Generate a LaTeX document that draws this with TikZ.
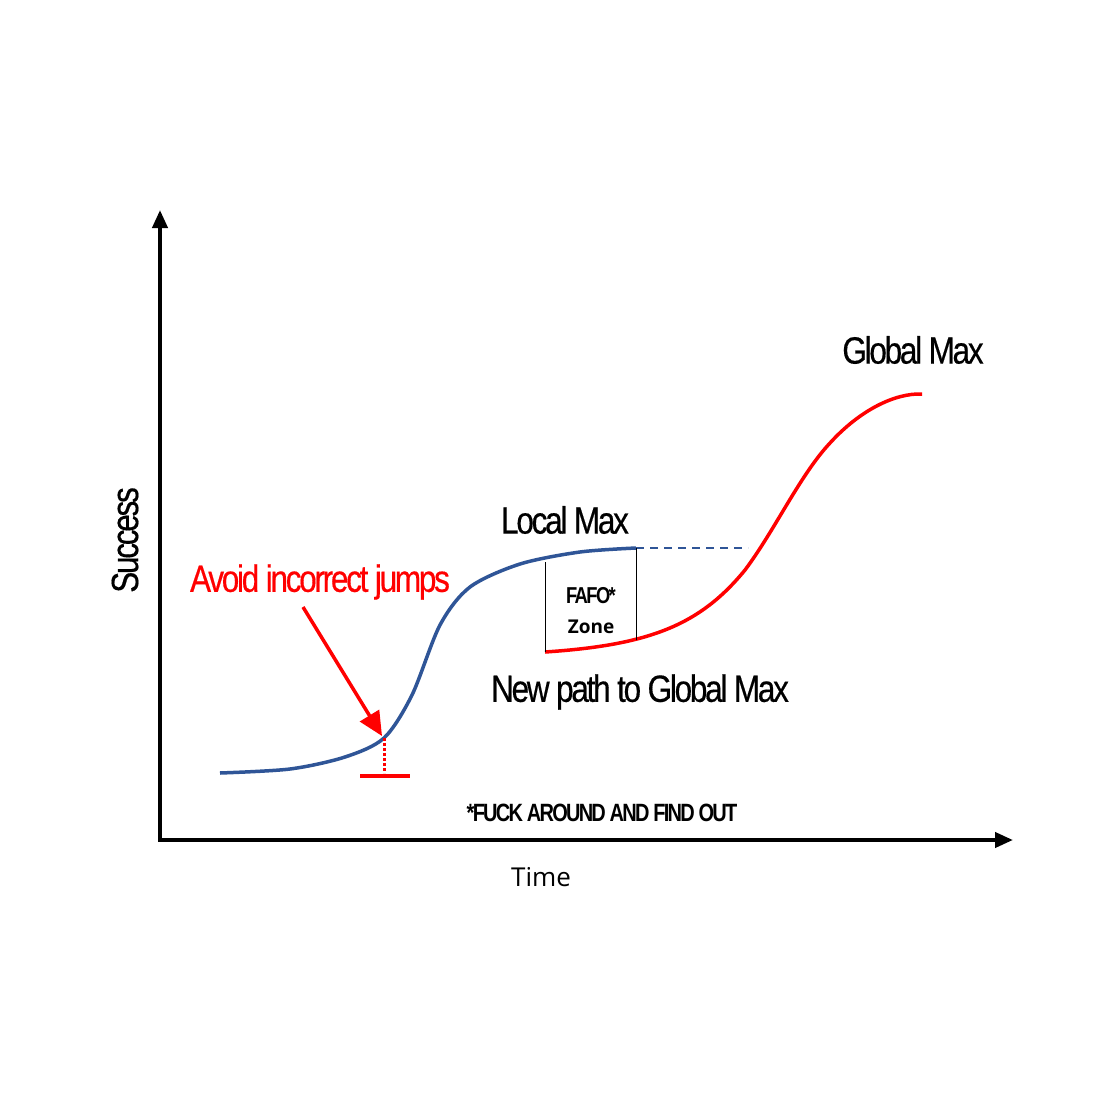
\documentclass[tikz,border=0pt]{standalone}
\usepackage{fontspec}
\setmainfont{Liberation Sans}
\newfontfamily\narrowfont[FakeStretch=0.83,LetterSpace=-6,FakeBold=0.4]{Liberation Sans}
\newfontfamily\narrowbold[FakeStretch=0.8,LetterSpace=-7]{Liberation Sans Bold}
\newfontfamily\opensans{Open Sans}
\usetikzlibrary{arrows.meta, positioning, calc}
\definecolor{curveblue}{RGB}{47,85,151}
\definecolor{jumpred}{RGB}{255,0,0}
\begin{document}
\begin{tikzpicture}[
    x=1pt, y=-1pt,
    axis/.style={draw=black, line width=4pt, -{Triangle[length=18pt, width=15pt]}},
    label/.style={font=\narrowfont\fontsize{38}{40}\selectfont, inner sep=0pt},
    bluecurve/.style={draw=curveblue, line width=3.5pt},
    redcurve/.style={draw=jumpred, line width=3.5pt},
    zone/.style={draw=black, line width=1pt},
    line/.style={draw=jumpred, line width=3.5pt, -{Triangle[length=24pt, width=22pt]}}
]
    \useasboundingbox (0,0) rectangle (1108,1108);
    \fill[white] (0,0) rectangle (1108,1108);

    % axes
    \coordinate (origin) at (160,840);
    \coordinate (ytop) at (160,210);
    \coordinate (xend) at (1013,840);
    \path [axis] (origin) -- (ytop);
    \path [axis] ($(origin)+(-2,0)$) -- (xend);
    \node [font=\narrowfont\fontsize{38}{40}\selectfont, rotate=90, inner sep=0pt] (success) at (125,540) {Success};
    \node [font=\opensans\fontsize{26}{30}\selectfont, inner sep=0pt] (time) at (541,877) {Time};
    \node [font=\narrowbold\fontsize{25}{28}\selectfont, inner sep=0pt] (fafonote) at (602,813) {*FUCK AROUND AND FIND OUT};

    % curves
    \coordinate (jump) at (384,738);
    \coordinate (localmax) at (636,548);
    \coordinate (dashend) at (748,548);
    \coordinate (newstart) at (545,652);
    \path [bluecurve] plot [smooth] coordinates {(220,773) (290,769) (345,757) (jump) (412,695) (440,625) (470,587) (520,564) (580,552) (localmax)};
    \path [draw=curveblue, line width=1.5pt, dash pattern=on 8pt off 6pt] (localmax) -- (dashend);
    \path [redcurve] (newstart) .. controls (650,645) and (700,625) .. (745,570)
        .. controls (775,530) and (800,475) .. (830,443)
        .. controls (860,410) and (895,393) .. (922,394);

    % FAFO zone
    \path [zone] (545,562) -- (newstart);
    \path [zone] (localmax) -- (636,640);
    \node [font=\narrowbold\fontsize{23}{26}\selectfont, inner sep=0pt] (fafo) at (591,596) {FAFO*};
    \node [font=\opensans\bfseries\fontsize{19}{24}\selectfont, inner sep=0pt] (zonetxt) at (591,627) {Zone};

    % labels
    \node [label] (localmaxlbl) at (565,520) {Local Max};
    \node [label] (globalmaxlbl) at (913,350) {Global Max};
    \node [label] (newpath) at (640,692) {New path to Global Max};
    \node [label, text=jumpred] (avoid) at (320,582) {Avoid incorrect jumps};

    % incorrect jump marker
    \coordinate (arrowstart) at (303,607);
    \coordinate (bar) at (384,776);
    \path [line] (arrowstart) -- ($(jump)+(-2,-2)$);
    \path [draw=jumpred, line width=3pt, dash pattern=on 3pt off 2pt] (jump) -- ($(bar)+(0,-3)$);
    \path [draw=jumpred, line width=3.5pt] ($(bar)+(-24,0)$) -- ($(bar)+(26,0)$);
\end{tikzpicture}
\end{document}
